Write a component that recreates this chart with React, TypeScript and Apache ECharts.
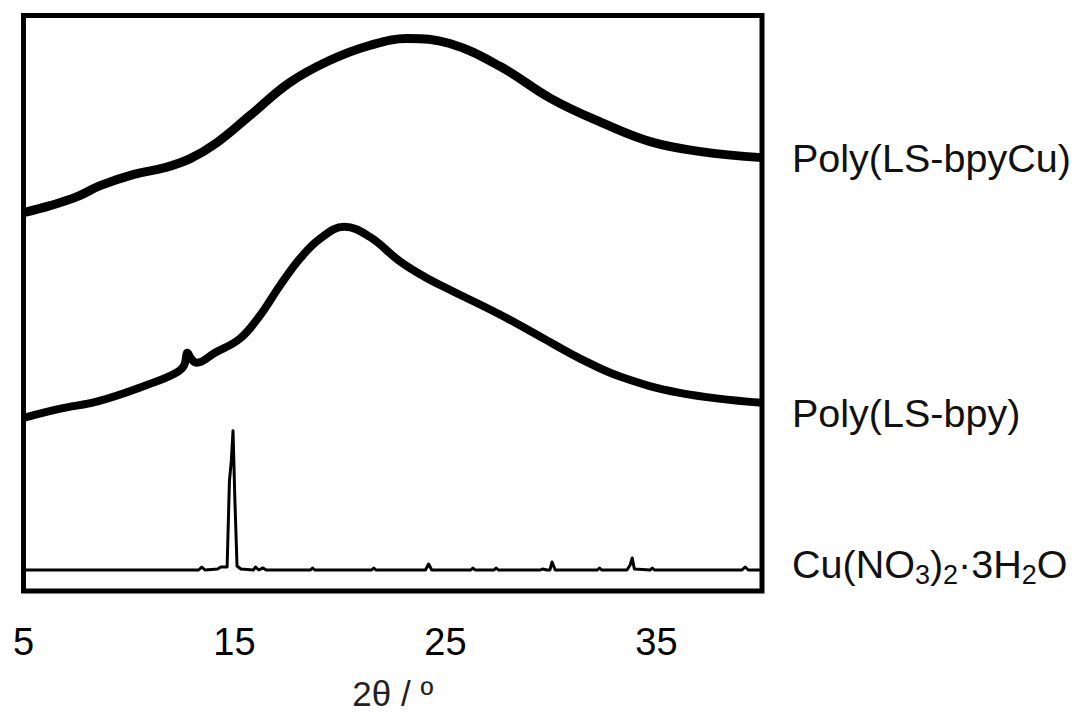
import React, { useEffect, useRef } from "react";
import * as echarts from "echarts";

// x-axis tick labels (2θ, degrees)
const xTickLabels = [5, 15, 25, 35];

// Poly(LS-bpyCu) — offset intensity (arbitrary units)
const bpyCuX = [5.0, 6.26, 7.54, 8.63, 10.19, 11.7, 12.9, 14.17, 15.73, 17.62, 19.5, 21.4, 23.2, 25.2, 27.6, 30.0, 32.4, 34.7, 37.1, 40.0];
const bpyCuY = [378, 385, 394, 405, 416, 423, 432, 448, 475, 508, 530, 545, 552, 547, 524, 492, 468, 449, 439, 433];

// Poly(LS-bpy)
const bpyX = [5.0, 6.7, 8.6, 11.0, 12.15, 12.6, 12.77, 12.95, 13.2, 14.07, 15.25, 16.2, 17.15, 18.1, 19.05, 20.2, 21.4, 22.8, 24.0, 25.2, 27.6, 29.5, 31.4, 33.3, 36.1, 40.0];
const bpyY = [173, 182, 190, 207, 217, 225, 238, 232, 228, 238, 252, 275, 305, 332, 352, 364, 354, 330, 314, 301, 276, 254, 232, 214, 198, 188];

// Cu(NO3)2·3H2O
const cuX = [5.0, 13.3, 13.45, 13.6, 14.2, 14.35, 14.65, 14.76, 14.85, 14.93, 15.02, 15.12, 15.3, 15.9, 16.0, 16.15, 16.35, 16.5, 18.6, 18.7, 18.8, 21.5, 21.6, 21.7, 24.05, 24.2, 24.35, 26.2, 26.3, 26.4, 27.3, 27.4, 27.5, 29.5, 29.6, 29.8, 29.95, 30.05, 30.2, 32.2, 32.3, 32.4, 33.6, 33.75, 33.85, 33.95, 34.7, 34.8, 34.9, 39.05, 39.2, 39.35, 40.0];
const cuY = [21, 21, 24, 21, 22, 24, 24, 110, 130, 160, 90, 25, 22, 21, 24, 21, 23, 21, 21, 23, 21, 21, 23, 21, 21, 27, 21, 21, 23, 21, 21, 23, 21, 21, 22, 21, 21, 29, 21, 21, 23, 21, 21, 26, 33, 22, 21, 23, 21, 21, 24, 21, 21];

const seriesNames = ["Poly(LS-bpyCu)", "Poly(LS-bpy)", "Cu(NO3)2·3H2O"];

const zip = (xs: number[], ys: number[]) => xs.map((x, i) => [x, ys[i]]);

export default function App() {
  const ref = useRef<HTMLDivElement>(null);
  useEffect(() => {
    document.body.style.margin = "0";
    const chart = echarts.init(ref.current!, null, { renderer: "svg" });
    const font = "Liberation Sans, Arial, sans-serif";
    chart.setOption({
      animation: false,
      backgroundColor: "#fff",
      grid: {
        left: 23.5,
        right: 315,
        top: 15.5,
        bottom: 122,
        outerBoundsMode: "none",
        containLabel: false,
        show: true,
        borderColor: "#000",
        borderWidth: 5,
        backgroundColor: "transparent",
      },
      xAxis: {
        type: "value",
        min: 5,
        max: 40,
        interval: 5,
        axisLine: { show: false },
        axisTick: { show: false },
        splitLine: { show: false },
        axisLabel: {
          margin: 32,
          fontSize: 38,
          color: "#000",
          fontFamily: font,
          formatter: (v: number) => (xTickLabels.includes(v) ? String(v) : ""),
        },
        name: "2θ / º",
        nameLocation: "middle",
        nameGap: 85,
        nameTextStyle: { fontSize: 35, lineHeight: 35, color: "#222", fontFamily: font },
      },
      yAxis: {
        type: "value",
        min: 0,
        max: 575,
        show: false,
        splitLine: { show: false },
      },
      series: [
        {
          name: seriesNames[0],
          type: "line",
          data: zip(bpyCuX, bpyCuY),
          smooth: 0.4,
          showSymbol: false,
          lineStyle: { color: "#000", width: 9, cap: "butt", join: "round" },
        },
        {
          name: seriesNames[1],
          type: "line",
          data: zip(bpyX, bpyY),
          smooth: 0.4,
          showSymbol: false,
          lineStyle: { color: "#000", width: 8, cap: "butt", join: "round" },
        },
        {
          name: seriesNames[2],
          type: "line",
          data: zip(cuX, cuY),
          showSymbol: false,
          lineStyle: { color: "#000", width: 3, join: "round" },
        },
      ],
      graphic: [
        {
          type: "text",
          x: 792,
          y: 158,
          style: { text: "Poly(LS-bpyCu)", fontSize: 39.5, fontFamily: font, fill: "#111", verticalAlign: "middle" },
        },
        {
          type: "text",
          x: 792,
          y: 413,
          style: { text: "Poly(LS-bpy)", fontSize: 39.5, fontFamily: font, fill: "#111", verticalAlign: "middle" },
        },
        {
          type: "text",
          x: 792,
          y: 566,
          style: {
            text: "{m|Cu(NO}{s|3}{m|)}{s|2}{m|·3H}{s|2}{m|O}",
            fontFamily: font,
            fill: "#111",
            verticalAlign: "middle",
            rich: {
              m: { fontSize: 39.5, fontFamily: font, lineHeight: 44, verticalAlign: "top", fill: "#111" },
              s: { fontSize: 27, fontFamily: font, lineHeight: 26, verticalAlign: "bottom", fill: "#111" },
            },
          },
        },
      ],
    });
    return () => chart.dispose();
  }, []);
  return <div ref={ref} style={{ width: 1077, height: 713 }} />;
}
